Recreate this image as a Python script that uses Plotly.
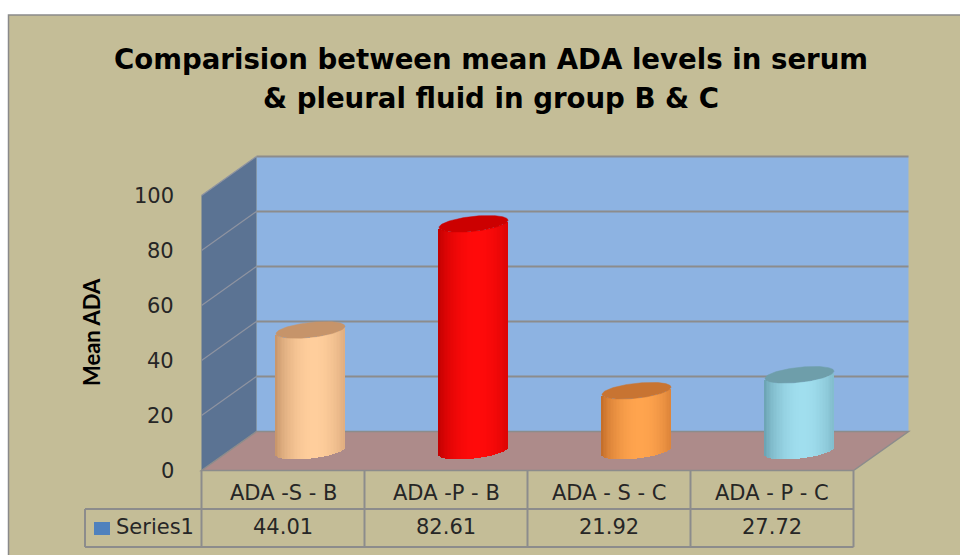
import numpy as np
import plotly.graph_objects as go

# ---------------- data ----------------
categories = ["ADA -S - B", "ADA -P - B", "ADA - S - C", "ADA - P - C"]
values = [44.01, 82.61, 21.92, 27.72]
value_labels = ["44.01", "82.61", "21.92", "27.72"]
series_name = "Series1"
y_ticks = [0, 20, 40, 60, 80, 100]
title_lines = ["Comparision between mean ADA levels in serum",
               "& pleural fluid in group B & C"]
y_title = "Mean ADA"

# ---------------- styling ----------------
OFF = 0             # page body margin (removed by post_script)
W, H = 960 - OFF, 555 - OFF
CAT_PX = 163.0      # pixels per category step
UNIT_PX = 2.75      # pixels per value unit
X0_PX = 310.5 - OFF  # figure pixel x of first category centre (mid depth)
Y0_PX = 451.0 - OFF  # figure pixel y of value 0 (mid depth)
DX = 27.5 / CAT_PX  # half depth, category units
DY = 19.5 / UNIT_PX # half depth, value units
R_PX, B_PX, K = 34.5, 7.5, 0.105   # cylinder radius, ellipse half-height, tilt
N_STRIPS = 48

edge_cols = [(196, 146, 104), (190, 0, 0), (192, 106, 40), (104, 160, 176)]
mid_cols = [(255, 206, 156), (255, 10, 10), (255, 164, 78), (160, 222, 238)]
cap_cols = ["#C6946A", "#CC0000", "#C87432", "#6E9EAA"]

TAN = "#C4BD97"
BACK = "#8DB3E2"
SIDE = "#5B7393"
FLOOR = "#AD8B8A"
GRID = "#8C8C8C"
BODY_FONT = "DejaVu Sans"
TITLE_FONT = "DejaVu Sans"
TXT = "#262626"

n = len(categories)
ymax = y_ticks[-1]
xr = [-X0_PX / CAT_PX, (W - X0_PX) / CAT_PX]
yr = [-(H - Y0_PX) / UNIT_PX, Y0_PX / UNIT_PX]


def py(p):  # screen pixel y -> paper y
    return 1 - (p - OFF) / H


def px(p):  # screen pixel x -> paper x
    return (p - OFF) / W


def xpaper(xd):  # data x -> paper x
    return (X0_PX + xd * CAT_PX) / W


fig = go.Figure()

shapes = []
# chart area background
shapes.append(dict(type="rect", xref="paper", yref="paper", x0=px(8.5), x1=1.05,
                   y0=-0.05, y1=py(15), fillcolor=TAN,
                   line=dict(color="#8A8A8A", width=1.5), layer="below"))
# back wall
shapes.append(dict(type="rect", xref="x", yref="y", x0=-0.5 + DX, x1=n - 0.5 + DX,
                   y0=DY, y1=ymax + DY, fillcolor=BACK, line=dict(width=0),
                   layer="below"))
# side wall
xa, xb = -0.5 - DX, -0.5 + DX
shapes.append(dict(type="path", xref="x", yref="y",
                   path=f"M {xa},{-DY} L {xb},{DY} L {xb},{ymax + DY} L {xa},{ymax - DY} Z",
                   fillcolor=SIDE, line=dict(width=0), layer="below"))
# floor
xc, xd = n - 0.5 - DX, n - 0.5 + DX
shapes.append(dict(type="path", xref="x", yref="y",
                   path=f"M {xa},{-DY} L {xc},{-DY} L {xd},{DY} L {xb},{DY} Z",
                   fillcolor=FLOOR, line=dict(color=GRID, width=1.5), layer="below"))
# gridlines
for t in y_ticks[1:]:
    shapes.append(dict(type="line", xref="x", yref="y", x0=xb, x1=xd,
                       y0=t + DY, y1=t + DY, line=dict(color=GRID, width=2),
                       layer="below"))
    shapes.append(dict(type="line", xref="x", yref="y", x0=xa, x1=xb,
                       y0=t - DY, y1=t + DY, line=dict(color="#8E93A0", width=1.2),
                       layer="below"))

# data table lines
r0, r1, r2 = 471, 509, 547
tbl = dict(color=GRID, width=2)
left_cell = px(85)
shapes.append(dict(type="line", xref="paper", yref="paper", x0=left_cell, x1=xpaper(xc),
                   y0=py(r1), y1=py(r1), line=tbl))
shapes.append(dict(type="line", xref="paper", yref="paper", x0=left_cell, x1=xpaper(xc),
                   y0=py(r2), y1=py(r2), line=tbl))
shapes.append(dict(type="line", xref="paper", yref="paper", x0=left_cell, x1=left_cell,
                   y0=py(r1), y1=py(r2), line=tbl))
for k in range(n + 1):
    xk = -0.5 - DX + k
    shapes.append(dict(type="line", xref="x", yref="paper", x0=xk, x1=xk,
                       y0=py(r0), y1=py(r2), line=tbl))
# legend key
shapes.append(dict(type="rect", xref="paper", yref="paper", x0=px(94), x1=px(110),
                   y0=py(535), y1=py(522), fillcolor="#4F81BD", line=dict(width=0)))

# ---------------- cylinders ----------------
u = -1 + (np.arange(N_STRIPS) + 0.5) * 2 / N_STRIPS
w = np.clip(np.cos((u - 0.12) * np.pi / 2 / 1.12), 0, 1) ** 0.7
bx, bbase, bh, bw, bc = [], [], [], [], []
for i, v in enumerate(values):
    e, m = np.array(edge_cols[i]), np.array(mid_cols[i])
    for uj, wj in zip(u, w):
        xo = uj * R_PX
        base_px = -B_PX * np.sqrt(max(0.0, 1 - uj ** 2)) + K * xo
        bx.append(i + xo / CAT_PX)
        bbase.append(base_px / UNIT_PX)
        bh.append(v)
        bw.append(2 * R_PX / N_STRIPS / CAT_PX * 1.35)
        c = e + (m - e) * wj
        bc.append("rgb(%d,%d,%d)" % tuple(np.round(c).astype(int)))

fig.add_trace(go.Bar(x=bx, y=bh, base=bbase, width=bw,
                     marker=dict(color=bc, line=dict(width=0)),
                     showlegend=False, hoverinfo="skip"))

tt = np.linspace(0, 2 * np.pi, 121)
for i, v in enumerate(values):
    cx = i + R_PX * np.cos(tt) / CAT_PX
    cy = v + (B_PX * np.sin(tt) + K * R_PX * np.cos(tt)) / UNIT_PX
    fig.add_trace(go.Scatter(x=cx, y=cy, mode="lines", fill="toself",
                             fillcolor=cap_cols[i],
                             line=dict(color=cap_cols[i], width=0.5),
                             showlegend=False, hoverinfo="skip"))

# ---------------- texts ----------------
ann = []


def add_text(text, x, y, xref="paper", yref="paper", xanchor="center", size=21,
             family=BODY_FONT, color=TXT, **kw):
    ann.append(dict(text=text, x=x, y=y, xref=xref, yref=yref, xanchor=xanchor,
                    yanchor="middle", showarrow=False,
                    font=dict(family=family, size=size, color=color), **kw))


add_text("<b>" + title_lines[0] + "</b>", px(491), py(59), size=27.6,
         family=TITLE_FONT, color="#000000")
add_text("<b>" + title_lines[1] + "</b>", px(491), py(99), size=27.6,
         family=TITLE_FONT, color="#000000")
add_text("<b>" + y_title + "</b>", px(91), py(332), size=22, family="Lato",
         color="#000000", textangle=-90)
for t in y_ticks:
    add_text(str(t), xa, t - DY, xref="x", yref="y", xanchor="right", xshift=-26)
for i, (c, vl) in enumerate(zip(categories, value_labels)):
    add_text(c, i - DX, py(493), xref="x")
    add_text(vl, i - DX, py(527), xref="x")
add_text(series_name, px(114), py(527), xanchor="left")

fig.update_layout(
    width=W, height=H, margin=dict(l=0, r=0, t=0, b=0),
    paper_bgcolor="white", plot_bgcolor="rgba(0,0,0,0)",
    xaxis=dict(range=xr, visible=False, fixedrange=True),
    yaxis=dict(range=yr, visible=False, fixedrange=True),
    shapes=shapes, annotations=ann, showlegend=False, hovermode=False,
    bargap=0,
)

fig.write_html("out.html", config={"displayModeBar": False},
               post_script="document.body.style.margin='0';"
                           "document.body.style.overflow='hidden';")
